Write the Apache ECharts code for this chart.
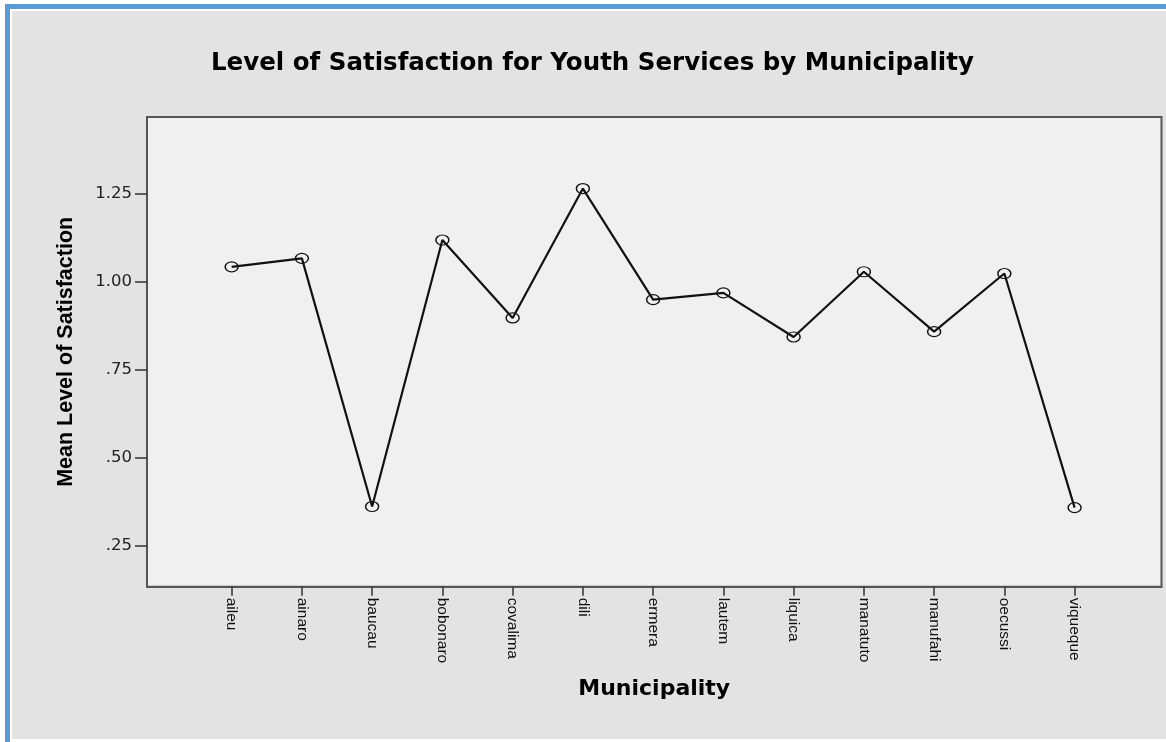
<!DOCTYPE html>
<html>
<head>
<meta charset="utf-8">
<script src="https://cdn.jsdelivr.net/npm/echarts@6/dist/echarts.min.js"></script>
<style>
  html, body { margin: 0; padding: 0; background: #ffffff; }
  #wrap { position: relative; width: 1166px; height: 742px; overflow: hidden; }
  #blue { position: absolute; left: 5px; top: 4px; width: 1161px; height: 738px; background: #5b9bd5; }
  #white { position: absolute; left: 10px; top: 9px; width: 1156px; height: 733px; background: #ffffff; }
  #gray { position: absolute; left: 12px; top: 11px; width: 1154px; height: 728px; background: #e3e3e3; }
  #chart { position: absolute; left: 0; top: 0; width: 1166px; height: 742px; }
</style>
</head>
<body>
<div id="wrap">
  <div id="blue"></div>
  <div id="white"></div>
  <div id="gray"></div>
  <div id="chart"></div>
</div>
<script>
const titleText = 'Level of Satisfaction for Youth Services by Municipality';
const xAxisTitle = 'Municipality';
const yAxisTitle = 'Mean Level of Satisfaction';
const municipalities = ['aileu', 'ainaro', 'baucau', 'bobonaro', 'covalima', 'dili', 'ermera',
  'lautem', 'liquica', 'manatuto', 'manufahi', 'oecussi', 'viqueque'];
const meanSatisfaction = [1.042, 1.066, 0.362, 1.118, 0.897, 1.264, 0.949,
  0.968, 0.843, 1.028, 0.858, 1.023, 0.359];
const yTickValues = [0.25, 0.50, 0.75, 1.00, 1.25];
const yTickLabels = ['.25', '.50', '.75', '1.00', '1.25'];

const xIdx = municipalities.map((_, i) => i);
const seriesData = meanSatisfaction.map((v, i) => [i, v]);

const chart = echarts.init(document.getElementById('chart'), null, { renderer: 'canvas' });
chart.setOption({
  backgroundColor: 'transparent',
  animation: false,
  title: {
    text: titleText,
    left: 206,
    top: 46,
    textStyle: { fontFamily: 'DejaVu Sans', fontWeight: 'bold', fontSize: 24.5, color: '#000' }
  },
  grid: {
    left: 147, top: 117, right: 4.5, bottom: 155.3,
    show: true, backgroundColor: '#f0f0f0', borderColor: '#555555', borderWidth: 2
  },
  xAxis: {
    type: 'value',
    min: -1.205, max: 13.237,
    name: xAxisTitle,
    nameLocation: 'middle',
    nameGap: 92,
    nameTextStyle: { fontFamily: 'DejaVu Sans', fontWeight: 'bold', fontSize: 22, color: '#000' },
    splitLine: { show: false },
    axisLine: { show: true, onZero: false, lineStyle: { color: '#555555', width: 2 } },
    axisTick: { show: true, customValues: xIdx, length: 9, lineStyle: { color: '#333', width: 1.5 } },
    axisLabel: {
      customValues: xIdx,
      formatter: v => municipalities[Math.round(v)] || '',
      rotate: -90,
      margin: 11,
      padding: [13, 0, 0, 0],
      fontFamily: 'Liberation Sans',
      fontSize: 15.5,
      color: '#111'
    }
  },
  yAxis: {
    type: 'value',
    min: 0.1346, max: 1.467,
    name: yAxisTitle,
    nameLocation: 'middle',
    nameGap: 70,
    nameTextStyle: { fontFamily: 'Liberation Sans', fontWeight: 'bold', fontSize: 21.5, color: '#000' },
    splitLine: { show: false },
    axisLine: { show: true, onZero: false, lineStyle: { color: '#555555', width: 2 } },
    axisTick: { show: true, customValues: yTickValues, length: 12, lineStyle: { color: '#333', width: 1.5 } },
    axisLabel: {
      customValues: yTickValues,
      formatter: v => {
        const k = yTickValues.findIndex(t => Math.abs(t - v) < 1e-6);
        return k >= 0 ? yTickLabels[k] : '';
      },
      margin: 15,
      fontFamily: 'DejaVu Sans',
      fontSize: 16.5,
      color: '#222'
    }
  },
  series: [{
    type: 'line',
    data: seriesData,
    symbol: 'circle',
    symbolSize: [13, 10],
    showAllSymbol: true,
    lineStyle: { color: '#111', width: 2.2 },
    itemStyle: { color: 'rgba(0,0,0,0)', borderColor: '#111', borderWidth: 1.3 },
    emphasis: { disabled: true }
  }]
});
</script>
</body>
</html>
